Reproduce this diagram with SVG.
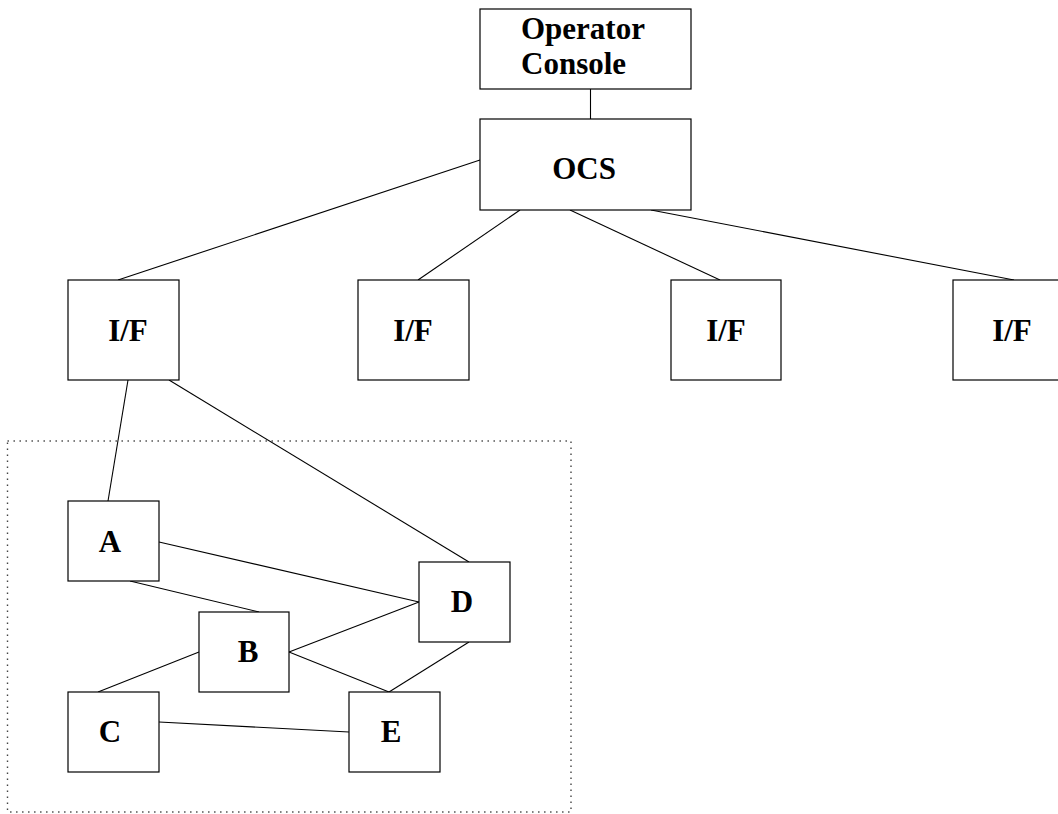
<svg xmlns="http://www.w3.org/2000/svg" width="1058" height="814" viewBox="0 0 1058 814">
<style>
.box{fill:#fff;stroke:#000;stroke-width:1.2}
.lbl{font-family:"Liberation Serif",serif;font-weight:bold;font-size:31px;text-anchor:middle;fill:#000}
.left{text-anchor:start}
.edge{stroke:#000;stroke-width:1.1;fill:none}
.grp{fill:none;stroke:#444;stroke-width:1.4;stroke-dasharray:1.4 4.6}
</style>
<rect width="1058" height="814" fill="#fff"/>
<rect class="grp" x="7.5" y="441" width="563.5" height="371"/>
<g id="connectors">
<line class="edge" x1="590.5" y1="89" x2="590.5" y2="119"/>
<line class="edge" x1="480" y1="160" x2="118" y2="280"/>
<line class="edge" x1="520" y1="210" x2="418" y2="280"/>
<line class="edge" x1="570" y1="210" x2="720" y2="280"/>
<line class="edge" x1="651" y1="210" x2="1014" y2="280"/>
<line class="edge" x1="128" y1="380" x2="108" y2="501"/>
<line class="edge" x1="169" y1="380" x2="469" y2="562"/>
<line class="edge" x1="159" y1="542" x2="419" y2="602"/>
<line class="edge" x1="130" y1="581" x2="259" y2="612"/>
<line class="edge" x1="199" y1="652" x2="98" y2="692"/>
<line class="edge" x1="289" y1="652" x2="419" y2="602"/>
<line class="edge" x1="289" y1="652" x2="389" y2="692"/>
<line class="edge" x1="469" y1="642" x2="389" y2="692"/>
<line class="edge" x1="159" y1="722" x2="349" y2="732"/>
</g>
<g id="console"><rect class="box" x="480" y="9" width="211" height="80"/><text class="lbl left" x="521" y="39">Operator</text><text class="lbl left" x="521" y="74">Console</text></g>
<g id="ocs"><rect class="box" x="480" y="119" width="211" height="91"/><text class="lbl" x="584" y="179">OCS</text></g>
<g id="if1"><rect class="box" x="68" y="280" width="111" height="100"/><text class="lbl" x="128" y="341">I/F</text></g>
<g id="if2"><rect class="box" x="358" y="280" width="111" height="100"/><text class="lbl" x="413" y="341">I/F</text></g>
<g id="if3"><rect class="box" x="671" y="280" width="110" height="100"/><text class="lbl" x="726" y="341">I/F</text></g>
<g id="if4"><rect class="box" x="953" y="280" width="111" height="100"/><text class="lbl" x="1012" y="341">I/F</text></g>
<g id="A"><rect class="box" x="68" y="501" width="91" height="80"/><text class="lbl" x="110" y="552">A</text></g>
<g id="B"><rect class="box" x="199" y="612" width="90" height="80"/><text class="lbl" x="248" y="662">B</text></g>
<g id="C"><rect class="box" x="68" y="692" width="91" height="80"/><text class="lbl" x="110" y="742">C</text></g>
<g id="D"><rect class="box" x="419" y="562" width="91" height="80"/><text class="lbl" x="462" y="612">D</text></g>
<g id="E"><rect class="box" x="349" y="692" width="91" height="80"/><text class="lbl" x="391" y="742">E</text></g>
</svg>
